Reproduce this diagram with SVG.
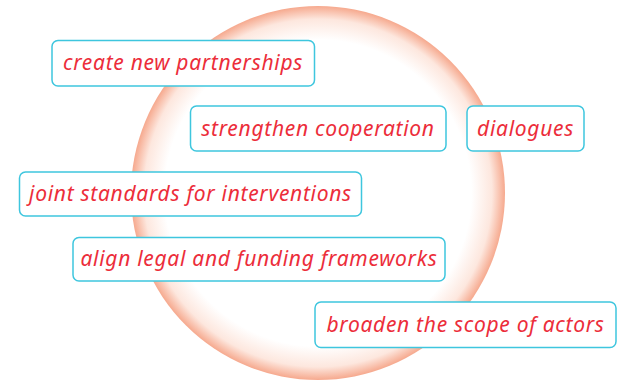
<svg xmlns="http://www.w3.org/2000/svg" width="629" height="381" viewBox="0 0 629 381">
<defs>
<radialGradient id="g" cx="318" cy="193" r="187" gradientUnits="userSpaceOnUse">
<stop offset="0" stop-color="#ffffff"/>
<stop offset="0.82" stop-color="#ffffff"/>
<stop offset="0.93" stop-color="#fde7de"/>
<stop offset="1" stop-color="#f6a98e"/>
</radialGradient>
<style>
.b{fill:#fff;stroke:#3ec6de;stroke-width:1.5}
.t{font-family:"Noto Sans","DejaVu Sans",sans-serif;font-style:italic;font-size:21px;letter-spacing:0.7px;fill:#ec2d3a;text-anchor:middle}
</style>
</defs>
<rect width="629" height="381" fill="#fff"/>
<circle cx="318" cy="193" r="187" fill="url(#g)"/>
<g id="n1"><rect class="b" x="52" y="40.5" width="262.5" height="45.5" rx="6"/><text class="t" x="183" y="70">create new partnerships</text></g>
<g id="n2"><rect class="b" x="190.5" y="106" width="255.5" height="45" rx="6"/><text class="t" x="318" y="135.5">strengthen cooperation</text></g>
<g id="n3"><rect class="b" x="467" y="106" width="117" height="45" rx="6"/><text class="t" x="525.5" y="135.5">dialogues</text></g>
<g id="n4"><rect class="b" x="19.5" y="172" width="342" height="44" rx="6"/><text class="t" x="190.5" y="200.5">joint standards for interventions</text></g>
<g id="n5"><rect class="b" x="73" y="237.5" width="372" height="43.5" rx="6"/><text class="t" x="259" y="266">align legal and funding frameworks</text></g>
<g id="n6"><rect class="b" x="315" y="302" width="301" height="45.5" rx="6"/><text class="t" x="465.5" y="332">broaden the scope of actors</text></g>
<g id="connectors"/>
</svg>
